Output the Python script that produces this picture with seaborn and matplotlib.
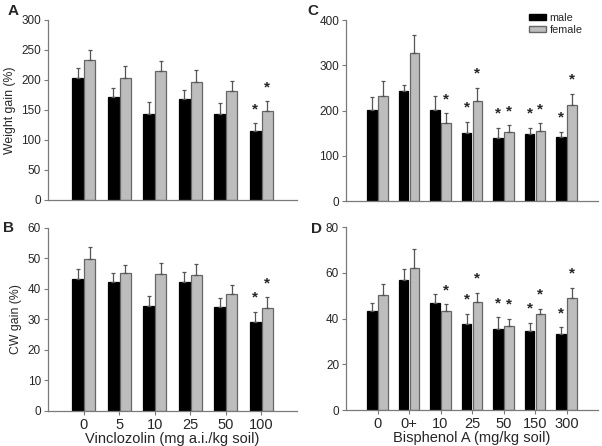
import numpy as np
import pandas as pd
import matplotlib
matplotlib.use("Agg")
import matplotlib.pyplot as plt
import seaborn as sns
from matplotlib.patches import Patch

# Vinclozolin doses and Bisphenol A doses
vin_doses = ["0", "5", "10", "25", "50", "100"]
bpa_doses = ["0", "0+", "10", "25", "50", "150", "300"]

# Panel A: weight gain (%), vinclozolin
a_male = [203, 171, 143, 168, 144, 115]
a_male_err = [17, 15, 20, 16, 17, 13]
a_female = [233, 203, 215, 197, 182, 148]
a_female_err = [17, 20, 17, 19, 17, 17]
a_male_star = [0, 0, 0, 0, 0, 1]
a_female_star = [0, 0, 0, 0, 0, 1]

# Panel B: CW gain (%), vinclozolin
b_male = [43.2, 42.3, 34.5, 42.4, 34.1, 29.2]
b_male_err = [3.5, 2.8, 3.1, 3.3, 3.1, 3.4]
b_female = [49.9, 45.1, 45.0, 44.6, 38.3, 33.9]
b_female_err = [3.8, 2.9, 3.4, 3.6, 3.1, 3.5]
b_male_star = [0, 0, 0, 0, 0, 1]
b_female_star = [0, 0, 0, 0, 0, 1]

# Panel C: weight gain (%), bisphenol A
c_male = [202, 244, 201, 151, 140, 148, 141]
c_male_err = [27, 13, 32, 24, 22, 14, 12]
c_female = [232, 328, 173, 222, 152, 155, 212]
c_female_err = [34, 39, 21, 28, 15, 17, 25]
c_male_star = [0, 0, 0, 1, 1, 1, 1]
c_female_star = [0, 0, 1, 1, 1, 1, 1]

# Panel D: CW gain (%), bisphenol A
d_male = [43.2, 56.9, 46.6, 37.6, 35.3, 34.7, 33.4]
d_male_err = [3.7, 4.7, 4.1, 4.5, 5.3, 3.4, 2.9]
d_female = [50.1, 62.2, 43.2, 47.2, 36.8, 41.8, 49.1]
d_female_err = [5.2, 8.1, 3.1, 4.1, 3.1, 2.5, 4.3]
d_male_star = [0, 0, 0, 1, 1, 1, 1]
d_female_star = [0, 0, 1, 1, 1, 1, 1]

sns.set_style("white")
plt.rcParams["font.family"] = ["Liberation Sans", "DejaVu Sans"]

SPINE = "#7a7a7a"
colors = {"male": "#000000", "female": "#bdbdbd"}
edges = {"male": "#000000", "female": "#666666"}


def draw_panel(ax, doses, male, male_err, female, female_err, male_star, female_star,
               ymax, ystep, xlabel=None, ylabel=None):
    df = pd.DataFrame({
        "dose": doses * 2,
        "sex": ["male"] * len(doses) + ["female"] * len(doses),
        "value": male + female,
    })
    sns.barplot(data=df, x="dose", y="value", hue="sex", order=doses,
                hue_order=["male", "female"], palette=colors, errorbar=None,
                width=0.68, gap=0.1, legend=False, ax=ax)

    errs = {"male": male_err, "female": female_err}
    stars = {"male": male_star, "female": female_star}
    for sex, cont in zip(["male", "female"], ax.containers):
        xs, tops = [], []
        for bar in cont:
            bar.set_edgecolor(edges[sex])
            bar.set_linewidth(0.9)
            xs.append(bar.get_x() + bar.get_width() / 2)
            tops.append(bar.get_height())
        e = np.array(errs[sex])
        ax.errorbar(xs, tops, yerr=[np.zeros_like(e), e], fmt="none",
                    ecolor="#555555", elinewidth=0.9, capsize=1.6, capthick=0.9)
        for x, t, err, s in zip(xs, tops, e, stars[sex]):
            if s:
                ax.annotate("*", xy=(x, t + err), xytext=(0, 5),
                            textcoords="offset points", ha="center", va="bottom",
                            fontsize=11, fontweight="bold")

    ax.set_xlim(-1, len(doses))
    ax.set_ylim(0, ymax)
    ax.set_yticks(np.arange(0, ymax + 1, ystep))
    sns.despine(ax=ax)
    for sp in ["left", "bottom"]:
        ax.spines[sp].set_color(SPINE)
        ax.spines[sp].set_linewidth(0.9)
    ax.tick_params(axis="y", left=True, length=3, width=0.8, color=SPINE,
                   labelsize=8.5, pad=2)
    if xlabel:
        ax.tick_params(axis="x", bottom=True, length=3, width=0.8, color=SPINE,
                       labelsize=10.5, pad=2)
        ax.set_xlabel(xlabel, fontsize=10.5, labelpad=0)
    else:
        ax.set_xticks([])
        ax.set_xlabel("")
    ax.set_ylabel(ylabel if ylabel else "", fontsize=8.8, labelpad=4)
    return ax


fig = plt.figure(figsize=(6.02, 4.46), dpi=100)
ax_a = fig.add_axes([0.0797, 0.5516, 0.4136, 0.4036])
ax_c = fig.add_axes([0.5748, 0.5493, 0.4186, 0.4058])
ax_b = fig.add_axes([0.0797, 0.0785, 0.4136, 0.4103])
ax_d = fig.add_axes([0.5748, 0.0807, 0.4186, 0.4103])

draw_panel(ax_a, vin_doses, a_male, a_male_err, a_female, a_female_err,
           a_male_star, a_female_star, 300, 50, ylabel="Weight gain (%)")
draw_panel(ax_b, vin_doses, b_male, b_male_err, b_female, b_female_err,
           b_male_star, b_female_star, 60, 10, ylabel="CW gain (%)",
           xlabel="Vinclozolin (mg a.i./kg soil)")
draw_panel(ax_c, bpa_doses, c_male, c_male_err, c_female, c_female_err,
           c_male_star, c_female_star, 400, 100)
draw_panel(ax_d, bpa_doses, d_male, d_male_err, d_female, d_female_err,
           d_male_star, d_female_star, 80, 20,
           xlabel="Bisphenol A (mg/kg soil)")

handles = [Patch(facecolor=colors[s], edgecolor=edges[s], label=s) for s in ["male", "female"]]
fig.legend(handles=handles, loc="upper left", bbox_to_anchor=(529 / 602, 1 - 13 / 446),
           bbox_transform=fig.transFigure, frameon=False, fontsize=7.8,
           handlelength=1.6, handleheight=0.45, handletextpad=0.3,
           labelspacing=0.2, borderpad=0, borderaxespad=0)

for txt, (x, y) in zip("ABCD", [(8, 15), (3, 232), (307, 15), (311, 233)]):
    fig.text(x / 602, 1 - y / 446, txt, fontsize=11, fontweight="bold",
             ha="left", va="baseline")

fig.savefig("out.png", dpi=100)
